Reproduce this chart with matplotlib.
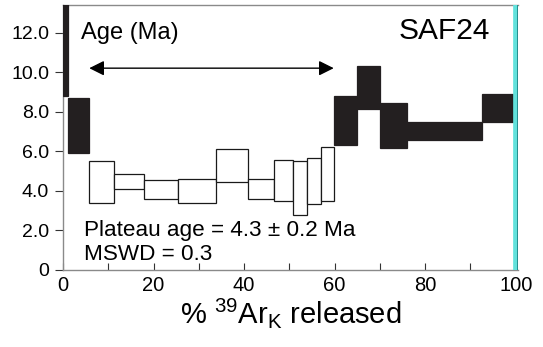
import matplotlib
matplotlib.use("Agg")
import matplotlib.pyplot as plt
from matplotlib.patches import Rectangle
from matplotlib.ticker import MultipleLocator

plt.rcParams['font.family'] = ['Liberation Sans', 'DejaVu Sans']
plt.rcParams['mathtext.fontset'] = 'custom'
plt.rcParams['mathtext.rm'] = 'Liberation Sans'

# step boundaries: cumulative % 39ArK released
cum_pct = [0, 1.2, 5.8, 11.2, 17.8, 25.4, 33.7, 40.9, 46.7, 50.8, 54.0, 57.0,
           59.9, 64.9, 70.0, 75.9, 92.5, 99.5, 100.5]
# age interval (Ma) for each step
age_lo = [8.8, 5.9, 3.38, 4.08, 3.61, 3.39, 4.45, 3.58, 3.5, 2.76, 3.33, 3.51,
          6.3, 8.15, 6.14, 6.59, 7.48, 0.0]
age_hi = [16.0, 8.67, 5.53, 4.86, 4.57, 4.59, 6.12, 4.6, 5.58, 5.5, 5.68, 6.24,
          8.79, 10.32, 8.46, 7.5, 8.9, 16.0]
# plateau steps are open, others filled
step_kind = ['out', 'out', 'plat', 'plat', 'plat', 'plat', 'plat', 'plat', 'plat',
             'plat', 'plat', 'plat', 'out', 'out', 'out', 'out', 'out', 'last']

plateau_start, plateau_end, arrow_age = 5.8, 59.8, 10.2
y_ticks = [0, 2, 4, 6, 8, 10, 12]
y_labels = ['0', '2.0', '4.0', '6.0', '8.0', '10.0', '12.0']

fig = plt.figure(figsize=(5.43, 3.47), dpi=100)
ax = fig.add_axes([0.116, 0.222, 0.838, 0.764])

styles = {
    'out': dict(facecolor='#231f20', edgecolor='#231f20', lw=0.9),
    'plat': dict(facecolor='white', edgecolor='#1a1a1a', lw=0.9),
    'last': dict(facecolor='#62e2dc', edgecolor='#62e2dc', lw=0.5),
}
for i, kind in enumerate(step_kind):
    x0, x1 = cum_pct[i], cum_pct[i + 1]
    ax.add_patch(Rectangle((x0, age_lo[i]), x1 - x0, age_hi[i] - age_lo[i],
                           zorder=3, **styles[kind]))
ax.axvline(cum_pct[-1] - 0.1, color='#1b7f80', lw=1.2, zorder=4)

ax.annotate('', xy=(plateau_start, arrow_age), xytext=(plateau_end, arrow_age),
            arrowprops=dict(arrowstyle='<|-|>,head_length=0.9,head_width=0.45',
                            color='black', lw=1, shrinkA=0, shrinkB=0))

ax.text(4.0, 12.0, 'Age (Ma)', fontsize=17, va='center', ha='left')
ax.text(94.2, 12.1, 'SAF24', fontsize=21.5, va='center', ha='right')
ax.text(4.6, 1.97, 'Plateau age = 4.3 \u00b1 0.2 Ma', fontsize=16.2, va='center', ha='left')
ax.text(4.6, 0.8, 'MSWD = 0.3', fontsize=16.2, va='center', ha='left')

ax.set_xlim(0, 100.5)
ax.set_ylim(0, 13.4)
ax.set_xticks([0, 20, 40, 60, 80, 100])
ax.xaxis.set_minor_locator(MultipleLocator(10))
ax.set_yticks(y_ticks)
ax.set_yticklabels(y_labels)
ax.tick_params(axis='x', which='both', direction='in', length=5, width=0.8,
               color='#333333', labelsize=14.5, pad=4)
ax.tick_params(axis='y', direction='out', length=6, width=0.8,
               color='#333333', labelsize=14, pad=4)

for side in ['left', 'bottom', 'top']:
    ax.spines[side].set_color('#8a8a8a')
    ax.spines[side].set_linewidth(1.0)
ax.spines['right'].set_visible(False)

ax.set_xlabel(r'% $\mathregular{^{39}}$Ar$\mathregular{_K}$ released', fontsize=21, labelpad=1)

fig.savefig('out.png', dpi=100)
